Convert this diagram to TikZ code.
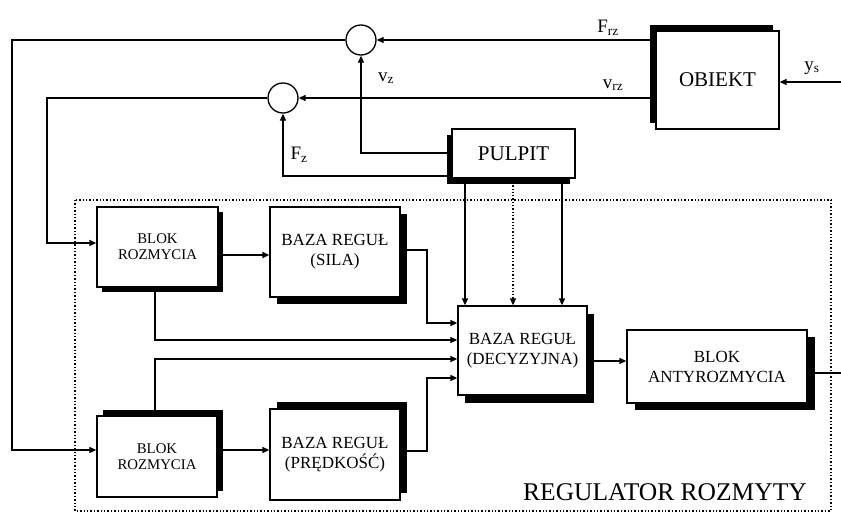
\documentclass[tikz,border=0pt]{standalone}
\usepackage{fontspec}
\setmainfont{Liberation Serif}
\usetikzlibrary{arrows.meta,shadows}
\begin{document}
\begin{tikzpicture}[x=1pt,y=-1pt,
  ln/.style={line width=1.3pt},
  arr/.style={ln,-{Triangle[length=7pt,width=6pt]}},
  box/.style={draw,line width=1.3pt,fill=white,inner sep=0pt,align=center},
  sh/.style args={#1,#2}{drop shadow={shadow xshift=#1,shadow yshift=#2,fill=black,opacity=1}},
  sumc/.style={circle,draw,line width=1.3pt,fill=white,minimum size=30pt,inner sep=0pt},
  small/.style={font=\fontsize{14.8}{16}\selectfont},
  mid/.style={font=\fontsize{17}{20}\selectfont},
  big/.style={font=\fontsize{21}{23}\selectfont},
  lab/.style={font=\fontsize{19}{21}\selectfont,inner sep=0pt}]
\useasboundingbox (0,0) rectangle (841,514);

% dotted regulator frame
\draw[dotted,line width=1.4pt] (75,200) rectangle (831,511);
\node[font=\fontsize{25.5}{28}\selectfont] (reg) at (665,492) {REGULATOR ROZMYTY};

% blocks
\node[box,big,sh={-6pt,6pt},minimum width=123pt,minimum height=98pt] (OB) at (717.5,80) {OBIEKT};
\node[box,big,sh={-5pt,-6pt},minimum width=123pt,minimum height=49pt] (PU) at (513.5,153.5) {PULPIT};
\node[box,small,sh={5pt,-5pt},minimum width=121pt,minimum height=80pt] (BL1) at (157.5,247) {BLOK\\ROZMYCIA};
\node[box,mid,sh={7pt,-7pt},minimum width=130pt,minimum height=90pt] (SI) at (335,252) {BAZA REGUŁ\\(SILA)};
\node[box,small,sh={6pt,6pt},minimum width=120pt,minimum height=81pt] (BL2) at (157,456.5) {BLOK\\ROZMYCIA};
\node[box,mid,sh={7pt,7pt},minimum width=130pt,minimum height=91pt] (PR) at (335,454.5) {BAZA REGUŁ\\(PRĘDKOŚĆ)};
\node[box,mid,sh={7pt,-8pt},minimum width=129pt,minimum height=89pt] (DEC) at (522.5,350.5) {BAZA REGUŁ\\(DECYZYJNA)};
\node[box,mid,sh={8pt,-7pt},minimum width=180pt,minimum height=73pt] (AN) at (717,366.5) {BLOK\\ANTYROZMYCIA};

% summing junctions
\node[sumc] (C1) at (361,40) {};
\node[sumc] (C2) at (283,98) {};

% labels
\node[lab] (lFrz) at (608,28) {F\textsubscript{rz}};
\node[lab] (lvrz) at (613,85) {v\textsubscript{rz}};
\node[lab] (lvz) at (386,78) {v\textsubscript{z}};
\node[lab] (lFz) at (299,155) {F\textsubscript{z}};
\node[lab] (lys) at (812,68) {y\textsubscript{s}};

% coordinates
\coordinate (ysin) at (841,82);
\coordinate (fb1) at (12,450);
\coordinate (fb2) at (47,243);
\coordinate (pv) at (361,153);
\coordinate (pf) at (283,176);
\coordinate (d1) at (465,0);
\coordinate (d2) at (513,0);
\coordinate (d3) at (562,0);
\coordinate (h1) at (0,255);
\coordinate (k1) at (427,250);
\coordinate (e1) at (0,323);
\coordinate (k2) at (155,340);
\coordinate (k3) at (155,359);
\coordinate (k4) at (427,378);
\coordinate (k5) at (427,451);
\coordinate (h2) at (0,450);
\coordinate (h3) at (0,361);
\coordinate (outp) at (841,373);

% connectors
\draw[arr] (OB.west |- C1) -- (C1.east);
\draw[arr] (OB.west |- C2) -- (C2.east);
\draw[arr] (ysin) -- (OB.east |- ysin);
\draw[arr] (C1.west) -| (fb1) -- (BL2.west |- fb1);
\draw[arr] (C2.west) -| (fb2) -- (BL1.west |- fb2);
\draw[arr] (PU.west |- pv) -- (pv) -- (C1.south);
\draw[arr] (PU.west |- pf) -- (pf) -- (C2.south);
\draw[arr] (PU.south -| d1) -- (DEC.north -| d1);
\draw[arr,dotted] (PU.south -| d2) -- (DEC.north -| d2);
\draw[arr] (PU.south -| d3) -- (DEC.north -| d3);
\draw[arr] (BL1.east |- h1) -- (SI.west |- h1);
\draw[arr] (SI.east |- k1) -- (k1) |- (DEC.west |- e1);
\draw[arr] (BL1.south -| k2) -- (k2) -- (DEC.west |- k2);
\draw[arr] (BL2.north -| k3) -- (k3) -- (DEC.west |- k3);
\draw[arr] (PR.east |- k5) -- (k5) -- (k4) -- (DEC.west |- k4);
\draw[arr] (BL2.east |- h2) -- (PR.west |- h2);
\draw[arr] (DEC.east |- h3) -- (AN.west |- h3);
\draw[ln] (AN.east |- outp) -- (outp);
\end{tikzpicture}
\end{document}
